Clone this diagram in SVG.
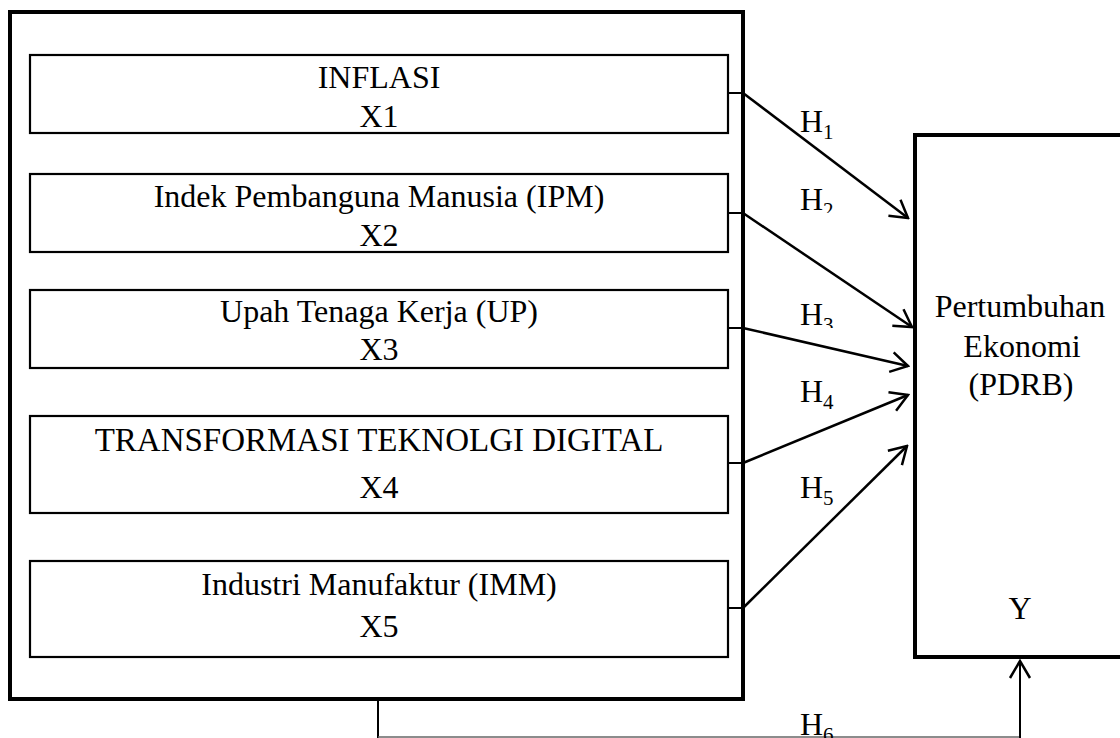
<svg xmlns="http://www.w3.org/2000/svg" width="1120" height="738" viewBox="0 0 1120 738">
<style>
.t{font-family:"Liberation Serif","Times New Roman",serif;font-size:32px;fill:#000;text-anchor:middle}
.h{font-family:"Liberation Serif","Times New Roman",serif;font-size:32px;fill:#000}
.sub{font-size:21px}
.outer{fill:none;stroke:#000;stroke-width:4}
.inner{fill:#fff;stroke:#000;stroke-width:2.2}
.ln{fill:none;stroke:#000;stroke-width:2.5}
.stub{fill:none;stroke:#000;stroke-width:2}
</style>
<defs>
<marker id="ah" viewBox="-20 -12 22 24" refX="0" refY="0" markerWidth="22" markerHeight="24" markerUnits="userSpaceOnUse" orient="auto">
<path d="M-17,-10 L0,0 L-17,10" fill="none" stroke="#000" stroke-width="2.5"/>
</marker>
<clipPath id="c2"><rect x="790" y="180" width="60" height="33"/></clipPath>
<clipPath id="c3"><rect x="790" y="295" width="60" height="33"/></clipPath>
</defs>
<rect width="1120" height="738" fill="#fff"/>
<g id="outer-box"><rect class="outer" x="10" y="12" width="733" height="687"/></g>
<g id="x1"><rect class="inner" x="30" y="55" width="698" height="78"/><text class="t" x="379" y="88">INFLASI</text><text class="t" x="379" y="127">X1</text></g>
<g id="x2"><rect class="inner" x="30" y="174" width="698" height="78"/><text class="t" x="379" y="207">Indek Pembanguna Manusia (IPM)</text><text class="t" x="379" y="246">X2</text></g>
<g id="x3"><rect class="inner" x="30" y="290" width="698" height="78"/><text class="t" x="379" y="322">Upah Tenaga Kerja (UP)</text><text class="t" x="379" y="360">X3</text></g>
<g id="x4"><rect class="inner" x="30" y="416" width="698" height="97"/><text class="t" x="379" y="451" style="font-size:33px">TRANSFORMASI TEKNOLGI DIGITAL</text><text class="t" x="379" y="498">X4</text></g>
<g id="x5"><rect class="inner" x="30" y="561" width="698" height="96"/><text class="t" x="379" y="595">Industri Manufaktur (IMM)</text><text class="t" x="379" y="637">X5</text></g>
<g id="y"><rect class="outer" x="915" y="135" width="220" height="522"/><text class="t" x="1020" y="317">Pertumbuhan</text><text class="t" x="1022" y="357">Ekonomi</text><text class="t" x="1021" y="395">(PDRB)</text><text class="t" x="1020" y="619">Y</text></g>
<g id="connectors">
<line class="stub" x1="728" y1="93" x2="743" y2="93"/>
<line class="stub" x1="728" y1="213" x2="743" y2="213"/>
<line class="stub" x1="728" y1="328" x2="743" y2="328"/>
<line class="stub" x1="728" y1="463" x2="743" y2="463"/>
<line class="stub" x1="728" y1="608" x2="743" y2="608"/>
<line class="ln" x1="743" y1="93" x2="908" y2="218" marker-end="url(#ah)"/>
<line class="ln" x1="743" y1="213" x2="912" y2="327" marker-end="url(#ah)"/>
<line class="ln" x1="743" y1="328" x2="908" y2="366" marker-end="url(#ah)"/>
<line class="ln" x1="743" y1="463" x2="908" y2="395" marker-end="url(#ah)"/>
<line class="ln" x1="743" y1="608" x2="907" y2="446" marker-end="url(#ah)"/>
<line class="stub" x1="378" y1="699" x2="378" y2="738"/>
<line x1="378" y1="737" x2="1020" y2="737" stroke="#666" stroke-width="1.5"/>
<line class="stub" x1="1020" y1="738" x2="1020" y2="661" marker-end="url(#ah)"/>
</g>
<g id="labels">
<text class="h" x="800" y="132">H<tspan class="sub" dy="7">1</tspan></text>
<text class="h" x="800" y="210" clip-path="url(#c2)">H<tspan class="sub" dy="7">2</tspan></text>
<text class="h" x="800" y="325" clip-path="url(#c3)">H<tspan class="sub" dy="7">3</tspan></text>
<text class="h" x="800" y="402">H<tspan class="sub" dy="7">4</tspan></text>
<text class="h" x="800" y="498">H<tspan class="sub" dy="7">5</tspan></text>
<text class="h" x="800" y="735">H<tspan class="sub" dy="7">6</tspan></text>
</g>
</svg>
